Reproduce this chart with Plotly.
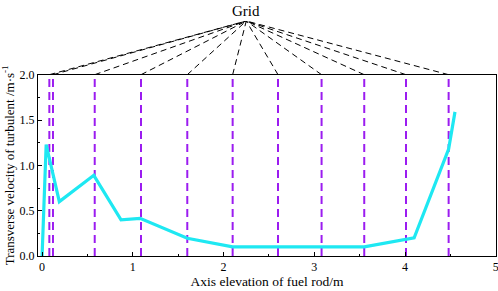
import plotly.graph_objects as go

# Data
curve_x = [0.0, 0.045, 0.19, 0.57, 0.87, 1.08, 1.6, 2.1, 3.55, 4.1, 4.48, 4.55]
curve_y = [0.0, 1.23, 0.60, 0.89, 0.40, 0.415, 0.195, 0.10, 0.10, 0.20, 1.18, 1.59]
grid_x = [0.08, 0.12, 0.58, 1.09, 1.6, 2.1, 2.6, 3.08, 3.55, 4.01, 4.48]
apex_x = 2.25
x_ticks = [0, 1, 2, 3, 4, 5]
y_ticks = [0.0, 0.5, 1.0, 1.5, 2.0]

FONT = "Liberation Serif"
XR = [-0.045, 5.002]
SPLIT = 0.7715

fig = go.Figure()

# purple dashed grid lines
gx, gy = [], []
for g in grid_x:
    gx += [g, g, None]
    gy += [0, 2, None]
fig.add_trace(go.Scatter(x=gx, y=gy, mode="lines",
                         line=dict(color="#9b1cf0", width=2, dash="8px,5px"),
                         hoverinfo="skip", showlegend=False))

# cyan curve
fig.add_trace(go.Scatter(x=curve_x, y=curve_y, mode="lines",
                         line=dict(color="#1ee8f2", width=3.2),
                         showlegend=False))

# connector lines to "Grid" label (upper subplot)
cx, cy = [], []
for g in grid_x:
    cx += [g, apex_x, None]
    cy += [0, 1, None]
fig.add_trace(go.Scatter(x=cx, y=cy, mode="lines", xaxis="x2", yaxis="y2",
                         line=dict(color="black", width=1, dash="6px,4px"),
                         hoverinfo="skip", showlegend=False))

axis_common = dict(showgrid=False, zeroline=False, showline=True, mirror=True,
                   linecolor="black", linewidth=1, ticks="inside", ticklen=4,
                   tickcolor="black", automargin=False, ticklabeloverflow="allow",
                   tickfont=dict(family=FONT, size=12, color="black"))

fig.update_layout(
    width=498, height=291,
    margin=dict(l=38, r=2, t=21, b=35),
    plot_bgcolor="white", paper_bgcolor="white",
    font=dict(family=FONT, color="black"),
    xaxis=dict(range=XR, tickvals=x_ticks, ticktext=[str(v) for v in x_ticks],
               minor=dict(dtick=0.5, ticks="inside", ticklen=2, tickcolor="black"),
               title=dict(text="Axis elevation of fuel rod/m", font=dict(family=FONT, size=13.5), standoff=3),
               anchor="y", **axis_common),
    yaxis=dict(range=[0, 2], domain=[0, SPLIT], tickvals=y_ticks,
               ticktext=[f"{v:.1f}" for v in y_ticks],
               minor=dict(dtick=0.25, ticks="inside", ticklen=2, tickcolor="black"),
               title=dict(text="Transverse velocity of turbulent /m·s<sup>-1</sup>",
                          font=dict(family=FONT, size=13), standoff=2),
               anchor="x", **axis_common),
    xaxis2=dict(range=XR, anchor="y2", visible=False),
    yaxis2=dict(range=[0, 1], domain=[SPLIT, 1], anchor="x2", visible=False),
    annotations=[dict(text="Grid", x=apex_x, y=1, xref="x", yref="paper",
                      yanchor="bottom", showarrow=False, yshift=0,
                      font=dict(family=FONT, size=15, color="black"))],
)

fig.write_html("out.html", config={"displayModeBar": False},
               post_script="document.body.style.margin='0';")
